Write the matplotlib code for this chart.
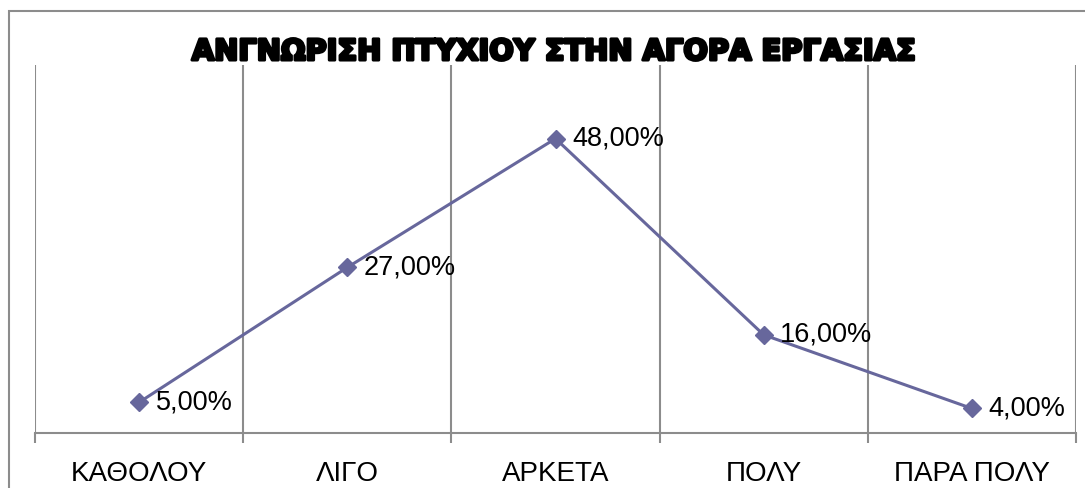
import matplotlib
matplotlib.use("Agg")
import matplotlib.pyplot as plt
from matplotlib.patches import Rectangle
import matplotlib.patheffects as pe

categories = ["ΚΑΘΟΛΟΥ", "ΛΙΓΟ", "ΑΡΚΕΤΑ", "ΠΟΛΥ", "ΠΑΡΑ ΠΟΛΥ"]
values = [0.05, 0.27, 0.48, 0.16, 0.04]
title = "ΑΝΓΝΩΡΙΣΗ ΠΤΥΧΙΟΥ ΣΤΗΝ ΑΓΟΡΑ ΕΡΓΑΣΙΑΣ"

fig = plt.figure(figsize=(10.85, 4.88), dpi=100)
fig.patches.append(Rectangle((9/1085, -0.1), 1.2, 1 - 11.5/488 + 0.1, transform=fig.transFigure,
                             fill=False, edgecolor="#8c8c8c", linewidth=1.5))
ax = fig.add_axes([35/1085, 55/488, 1041/1085, 368/488])
x = list(range(len(categories)))
color = "#67679c"
ax.plot(x, values, color=color, linewidth=2.2, marker="D", markersize=9, zorder=3)
for xi, v in zip(x, values):
    ax.annotate(f"{v*100:.2f}%".replace(".", ","), (xi, v), xytext=(12, 0),
                textcoords="offset points", va="center", ha="left",
                fontsize=19.5, family="Liberation Sans", color="black")
ax.set_xlim(-0.5, len(categories) - 0.5)
ax.set_ylim(0, 0.6)
ax.set_yticks([])
for b in [i - 0.5 for i in range(len(categories) + 1)]:
    ax.axvline(b, color="#8c8c8c", linewidth=1.5, zorder=1)
ax.set_xticks([i - 0.5 for i in range(len(categories) + 1)])
ax.set_xticklabels([])
ax.set_xticks(x, minor=True)
ax.set_xticklabels(categories, minor=True, fontsize=20, family="Liberation Sans")
ax.tick_params(axis="x", which="major", length=7, width=1.5, color="#8c8c8c", direction="out")
ax.tick_params(axis="x", which="minor", length=0, pad=20)
for s in ["top", "left", "right"]:
    ax.spines[s].set_visible(False)
ax.spines["bottom"].set_color("#8c8c8c")
ax.spines["bottom"].set_linewidth(1.5)
t = fig.text(553/1085, 1 - 52/488, title, ha="center", va="center", fontsize=20.8,
             family="DejaVu Sans", fontweight="bold", color="black")
t.set_path_effects([pe.withStroke(linewidth=2.2, foreground="black")])
fig.savefig("out.png", dpi=100)
